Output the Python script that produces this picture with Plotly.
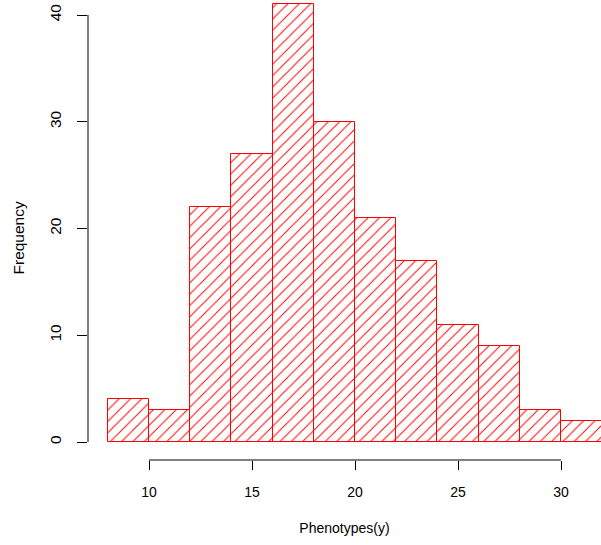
import plotly.graph_objects as go

# Histogram data
bin_edges = [8, 10, 12, 14, 16, 18, 20, 22, 24, 26, 28, 30, 32]
counts = [4, 3, 22, 27, 41, 30, 21, 17, 11, 9, 3, 2]
x_ticks = [10, 15, 20, 25, 30]
y_ticks = [0, 10, 20, 30, 40]

centers = [(a + b) / 2 for a, b in zip(bin_edges[:-1], bin_edges[1:])]
widths = [b - a for a, b in zip(bin_edges[:-1], bin_edges[1:])]

W, H = 601, 545
ml, mr, mt, mb = 88, 0, 0, 85
px_per_x = (561 - 149) / 20.0
px_per_y = (442 - 15) / 40.0
x0 = 10 - (149 - ml) / px_per_x
x1 = x0 + (W - ml - mr) / px_per_x
y0 = 0 - (460 - 442) / px_per_y
y1 = y0 + (H - mt - mb) / px_per_y

fig = go.Figure()
fig.add_trace(go.Bar(
    x=centers, y=counts, width=widths,
    marker=dict(
        color="white",
        line=dict(color="red", width=1),
        pattern=dict(shape="/", fgcolor="red", bgcolor="white", fgopacity=1,
                     size=8, solidity=0.12),
    ),
    showlegend=False,
))

fam = "Liberation Sans, Arial, sans-serif"
xfont = dict(family=fam, size=14, color="black")
yfont = dict(family=fam, size=15.5, color="black")

fig.update_layout(
    width=W, height=H,
    margin=dict(l=ml, r=mr, t=mt, b=mb),
    paper_bgcolor="white", plot_bgcolor="white",
    font=xfont,
    bargap=0,
    xaxis=dict(
        range=[x0, x1], tickvals=x_ticks, ticktext=[str(v) for v in x_ticks],
        ticks="outside", ticklen=9, tickcolor="black", tickwidth=1,
        ticklabelstandoff=10,
        showgrid=False, zeroline=False, showline=False,
        title=dict(text="Phenotypes(y)", standoff=24, font=dict(family=fam, size=14, color="black")),
        tickfont=xfont,
    ),
    yaxis=dict(
        range=[y0, y1], tickvals=y_ticks, ticktext=[str(v) for v in y_ticks],
        ticks="outside", ticklen=10, tickcolor="black", tickwidth=1,
        ticklabelstandoff=10,
        tickangle=-90,
        showgrid=False, zeroline=False, showline=False,
        tickfont=yfont,
    ),
    shapes=[
        dict(type="line", xref="x", yref="paper", x0=x_ticks[0], x1=x_ticks[-1], y0=0, y1=0,
             line=dict(color="black", width=1)),
        dict(type="line", xref="paper", yref="y", x0=0, x1=0, y0=y_ticks[0], y1=y_ticks[-1],
             line=dict(color="black", width=1)),
    ],
    annotations=[
        dict(text="Frequency", textangle=-90, showarrow=False,
             xref="paper", yref="paper",
             x=(17.5 - ml) / (W - ml - mr), y=1 - (238 - mt) / (H - mt - mb),
             xanchor="center", yanchor="middle",
             font=dict(family=fam, size=15.5, color="black")),
    ],
)

fig.write_html("out.html")
